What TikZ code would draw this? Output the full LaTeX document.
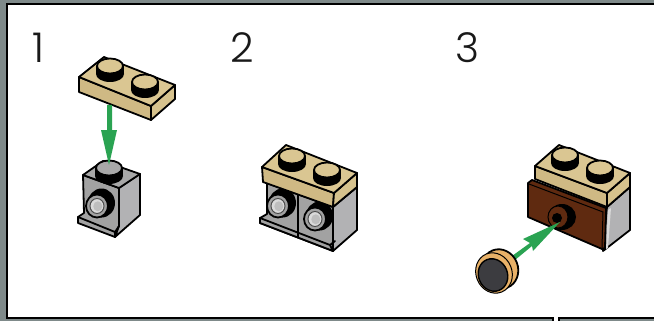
\documentclass[tikz,border=0pt]{standalone}
\usepackage{fontspec}
\setmainfont{Poppins Light}
\definecolor{frameg}{HTML}{7F8A8A}
\definecolor{tantop}{HTML}{DAC692}
\definecolor{tanfr}{HTML}{CFB984}
\definecolor{tanrt}{HTML}{D6C28D}
\definecolor{graytop}{HTML}{A8A8A8}
\definecolor{grayfr}{HTML}{A2A2A2}
\definecolor{grayrt}{HTML}{B2B2B4}
\definecolor{graylt}{HTML}{DADADA}
\definecolor{graymid}{HTML}{BEBEBE}
\definecolor{brownb}{HTML}{5F2A10}
\definecolor{arrowg}{HTML}{2AA352}
\definecolor{disct}{HTML}{E8B168}
\definecolor{discd}{HTML}{3C3C40}
\tikzset{
  x=1pt,y=-1pt,
  edge/.style={draw=black,line width=1.8pt,line join=round,line cap=round},
  green/.style={fill=arrowg,draw=none},
  digit/.style={font=\fontsize{41}{41}\selectfont,text=black!90,inner sep=0pt,anchor=center},
  pics/stud/.style={code={
    \fill[black] (-14,0) rectangle (14,8);
    \fill[black] (0,8) ellipse[x radius=14,y radius=8];
    \draw[edge,fill=#1] (0,0) ellipse[x radius=13,y radius=7.5];
  }},
  pics/peg/.style={code={
    \fill[black] (4.5,-3) ellipse[x radius=13.5,y radius=14.5];
    \draw[edge,fill=grayfr] (0,0) ellipse[x radius=11,y radius=11.5];
    \draw[line width=1pt,draw=black!70,fill=graylt] (0,0) ellipse[x radius=7,y radius=7.5];
    \fill[graymid] (.8,.3) ellipse[x radius=4.5,y radius=5];
  }},
}
\begin{document}
\begin{tikzpicture}
\useasboundingbox (0,0) rectangle (654,321);
% frame
\fill[frameg] (0,0) rectangle (654,321);
\fill[black] (6,3) rectangle (654,319);
\fill[white] (8,5) rectangle (654,317);
\fill[black] (552,317) rectangle (554,321);
\fill[white] (554,317) rectangle (558,321);
\fill[black] (558,317) rectangle (560,321);
% digits
\node[digit] (n1) at (38,48) {1};
\node[digit] (n2) at (242,48) {2};
\node[digit] (n3) at (467,48) {3};

% --- step 1: grey brick
\draw[edge,fill=grayfr] (83,175) -- (119,188) -- (119,226) -- (115,237) -- (78,223) -- (78,217) -- (84,213) -- cycle;
\draw[edge,fill=grayrt] (119,188) -- (140,174) -- (140,215) -- (115,237) -- (119,226) -- cycle;
\draw[edge,fill=graytop] (83,175) -- (103,161) -- (140,174) -- (119,188) -- cycle;
\draw[edge] (78,217) -- (115,232) -- (119,226);
\draw[edge] (115,232) -- (115,237);
\pic at (109,168) {stud=graytop};
\pic at (97,206) {peg};
% --- step 1: plate
\draw[edge,fill=tanfr] (79,77) -- (151,106) -- (151,120) -- (79,92) -- cycle;
\draw[edge,fill=tanrt] (151,106) -- (175,85) -- (175,99) -- (151,120) -- cycle;
\draw[edge,fill=tantop] (79,77) -- (104,57) -- (175,85) -- (151,106) -- cycle;
\pic at (110,66) {stud=tantop};
\pic at (145,82) {stud=tantop};
% --- step 1: arrow
\path[green] (107,105) -- (112,105) -- (112,130) -- (117,130) -- (109,165) -- (101,130) -- (107,130) -- cycle;

% --- step 2: grey bricks
\draw[edge,fill=grayfr] (267,183) -- (333,207) -- (333,243) -- (333,251) -- (260,223) -- (260,218) -- (267,214) -- cycle;
\draw[edge,fill=grayrt] (333,207) -- (357,187) -- (357,230) -- (333,251) -- cycle;
\pic at (278,206) {peg};
\pic at (315,219) {peg};
\draw[edge] (298,195) -- (298,237);
\draw[edge,fill=grayfr] (260,218) -- (330,245) -- (333,251) -- (260,223) -- cycle;
\draw[edge] (298,231) -- (298,237);
\draw[edge] (330,245) -- (335,241);
% --- step 2: plate
\draw[edge,fill=tanfr] (262,167) -- (334,193) -- (333,207) -- (263,182) -- cycle;
\draw[edge,fill=tanrt] (334,193) -- (357,173) -- (357,187) -- (333,207) -- cycle;
\draw[edge,fill=tantop] (262,167) -- (286,145) -- (357,173) -- (334,193) -- cycle;
\pic at (292,156) {stud=tantop};
\pic at (327,170) {stud=tantop};

% --- step 3: grey side
\draw[edge,fill=grayrt] (607,207) -- (630,187) -- (630,230) -- (603,251) -- cycle;
\fill[graylt] (608,210) -- (611,208) -- (608,248) -- (606,249) -- cycle;
% --- step 3: brown tile
\draw[edge,fill=brownb] (532,180) -- (606,208) -- (605,248) -- (602,249) -- (528,217) -- (528,183) -- cycle;
\draw[line width=1pt,black] (529,184) -- (603,212) -- (602,248);
% --- step 3: round hole
\fill[black] (562,217) ellipse[x radius=14,y radius=13];
\draw[line width=1pt,fill=brownb] (558,217) ellipse[x radius=10,y radius=11];
\fill[black] (557,218) ellipse[x radius=5,y radius=5];
% --- step 3: plate
\draw[edge,fill=tanfr] (535,166) -- (607,193) -- (607,207) -- (535,179) -- cycle;
\draw[edge,fill=tanrt] (607,193) -- (630,173) -- (630,187) -- (607,207) -- cycle;
\draw[edge,fill=tantop] (535,166) -- (559,145) -- (630,173) -- (607,193) -- cycle;
\pic at (565,155) {stud=tantop};
\pic at (600,168) {stud=tantop};
% --- step 3: arrow
\path[green] (512,256) -- (530,243) -- (523,239) -- (560,222) -- (533,251) -- (532,246) -- (515,260) -- cycle;
% --- step 3: disc
\draw[edge,fill=disct,rotate around={22:(500,269)}] (500,269) ellipse[x radius=18,y radius=20];
\draw[line width=1pt,fill=disct,rotate around={22:(494,273)}] (494,273) ellipse[x radius=18,y radius=20.5];
\draw[line width=1.4pt,fill=discd,rotate around={22:(493,275)}] (493,275) ellipse[x radius=14.5,y radius=16.5];
\end{tikzpicture}
\end{document}
